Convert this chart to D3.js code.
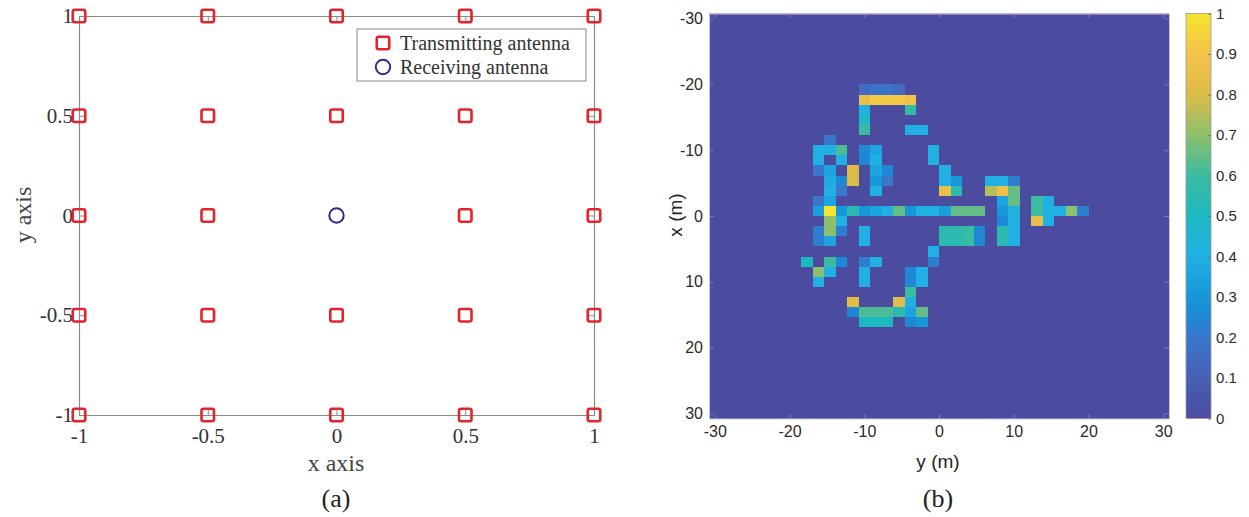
<!DOCTYPE html>
<html><head><meta charset="utf-8">
<script src="https://cdn.jsdelivr.net/npm/d3@7/dist/d3.min.js"></script>
<style>body{margin:0;background:#fff}svg{display:block}</style>
</head><body>
<svg id="chart" width="1249" height="517"></svg>
<script>
// ---------- Panel (a) data ----------
const txPositions = [
  [-1,1],[-0.5,1],[0,1],[0.5,1],[1,1],
  [-1,0.5],[-0.5,0.5],[0,0.5],[0.5,0.5],[1,0.5],
  [-1,0],[-0.5,0],[0.5,0],[1,0],
  [-1,-0.5],[-0.5,-0.5],[0,-0.5],[0.5,-0.5],[1,-0.5],
  [-1,-1],[-0.5,-1],[0,-1],[0.5,-1],[1,-1]
];
const rxPositions = [[0,0]];
const panelATicks = [-1,-0.5,0,0.5,1];
const panelATickLabels = ["-1","-0.5","0","0.5","1"];
const legendLabels = ["Transmitting antenna","Receiving antenna"];

// ---------- Panel (b) data ----------
const gridCount = 40;           // image pixels per side
const gridMin = -30, gridMax = 30;
const panelBTicks = [-30,-20,-10,0,10,20,30];
const panelBTickLabels = ["-30","-20","-10","0","10","20","30"];
const colorbarTicks = [0,0.1,0.2,0.3,0.4,0.5,0.6,0.7,0.8,0.9,1];
const colorbarTickLabels = ["0","0.1","0.2","0.3","0.4","0.5","0.6","0.7","0.8","0.9","1"];
// [row (x index, top->bottom), column (y index, left->right), value]
const hotCells = [
  [7,13,0.15],[7,14,0.18],[7,15,0.18],[7,16,0.15],
  [8,13,0.85],[8,14,0.92],[8,15,0.92],[8,16,0.92],[8,17,0.9],
  [9,13,0.42],[9,17,0.58],
  [10,13,0.48],
  [11,13,0.6],[11,17,0.4],[11,18,0.4],
  [12,10,0.2],
  [13,9,0.4],[13,10,0.4],[13,11,0.62],[13,13,0.25],[13,14,0.35],[13,19,0.4],
  [14,9,0.4],[14,11,0.4],[14,13,0.25],[14,14,0.4],[14,19,0.4],
  [15,9,0.2],[15,10,0.35],[15,12,0.8],[15,14,0.35],[15,15,0.25],[15,20,0.4],
  [16,10,0.38],[16,11,0.25],[16,12,0.8],[16,14,0.3],[16,15,0.2],[16,20,0.4],[16,21,0.3],[16,24,0.4],[16,25,0.4],[16,26,0.22],
  [17,10,0.4],[17,11,0.2],[17,14,0.4],[17,20,0.85],[17,21,0.55],[17,24,0.75],[17,25,0.88],[17,26,0.65],
  [18,9,0.2],[18,10,0.35],[18,25,0.35],[18,26,0.65],[18,28,0.6],[18,29,0.4],
  [19,9,0.33],[19,10,1.0],[19,11,0.3],[19,12,0.55],[19,13,0.3],[19,14,0.35],[19,15,0.4],[19,16,0.65],[19,17,0.3],[19,18,0.4],[19,19,0.4],[19,20,0.33],[19,21,0.65],[19,22,0.65],[19,23,0.65],[19,25,0.3],[19,26,0.42],[19,28,0.6],[19,29,0.4],[19,30,0.4],[19,31,0.7],[19,32,0.22],
  [20,10,0.7],[20,11,0.4],[20,25,0.25],[20,26,0.4],[20,28,0.85],[20,29,0.4],
  [21,9,0.22],[21,10,0.7],[21,11,0.22],[21,13,0.4],[21,20,0.55],[21,21,0.55],[21,22,0.58],[21,23,0.25],[21,25,0.55],[21,26,0.4],
  [22,9,0.22],[22,10,0.35],[22,13,0.4],[22,20,0.55],[22,21,0.55],[22,22,0.58],[22,23,0.25],[22,25,0.55],[22,26,0.4],
  [23,19,0.4],
  [24,8,0.5],[24,10,0.6],[24,11,0.25],[24,13,0.22],[24,14,0.4],[24,19,0.22],
  [25,9,0.7],[25,10,0.4],[25,13,0.4],[25,17,0.25],[25,18,0.4],
  [26,9,0.4],[26,13,0.4],[26,17,0.25],[26,18,0.4],
  [27,17,0.6],
  [28,12,0.82],[28,16,0.82],[28,17,0.4],
  [29,12,0.25],[29,13,0.62],[29,14,0.62],[29,15,0.62],[29,16,0.55],[29,17,0.35],[29,18,0.65],
  [30,13,0.5],[30,14,0.5],[30,15,0.5],[30,17,0.25],[30,18,0.3]
];

// colormap (washed parula as seen)
const cmapStops  = [0, 0.1, 0.2, 0.25, 0.3, 0.4, 0.5, 0.6, 0.7, 0.8, 0.9, 1];
const cmapColors = ["#4b4b9f","#4660b4","#3a76cc","#1e88d4","#1797d8","#21b0e4","#1cb9c0","#3cbba0","#8cc06c","#dcbc48","#f4c24a","#f5e52e"];

const svg = d3.select("#chart");
const serif = "'Liberation Serif','Times New Roman',serif";
const sans = "'Liberation Sans',Arial,Helvetica,sans-serif";

// ================= Panel (a) =================
const xA = d3.scaleLinear().domain([-1,1]).range([79,594]);
const yA = d3.scaleLinear().domain([-1,1]).range([415,16]);
const gA = svg.append("g");

function styleAxisA(sel){
  sel.select(".domain").attr("stroke","#8a8a8a").attr("stroke-width",1.2);
  sel.selectAll(".tick line").attr("stroke","#8a8a8a");
  sel.selectAll("text").attr("font-family",serif).attr("font-size",21).attr("fill","#333");
}
gA.append("g").attr("transform","translate(0,415)")
  .call(d3.axisBottom(xA).tickValues(panelATicks).tickFormat((d,i)=>panelATickLabels[i]).tickSize(-5).tickSizeOuter(0).tickPadding(13))
  .call(styleAxisA);
gA.append("g").attr("transform","translate(0,16)")
  .call(d3.axisTop(xA).tickValues(panelATicks).tickFormat("").tickSize(-5).tickSizeOuter(0))
  .call(styleAxisA);
gA.append("g").attr("transform","translate(79,0)")
  .call(d3.axisLeft(yA).tickValues(panelATicks).tickFormat((d,i)=>panelATickLabels[i]).tickSize(-5).tickSizeOuter(0).tickPadding(6))
  .call(styleAxisA);
gA.append("g").attr("transform","translate(594,0)")
  .call(d3.axisRight(yA).tickValues(panelATicks).tickFormat("").tickSize(-5).tickSizeOuter(0))
  .call(styleAxisA);

const redCol = "#e3242b", blueCol = "#2b2b8f";
const sq = 12.5;
gA.selectAll("rect.tx").data(txPositions).join("rect").attr("class","tx")
  .attr("x",d=>xA(d[0])-sq/2).attr("y",d=>yA(d[1])-sq/2).attr("width",sq).attr("height",sq)
  .attr("rx",2).attr("fill","none").attr("stroke",redCol).attr("stroke-width",2.6);
gA.selectAll("circle.rx").data(rxPositions).join("circle").attr("class","rx")
  .attr("cx",d=>xA(d[0])).attr("cy",d=>yA(d[1])).attr("r",7.2)
  .attr("fill","none").attr("stroke",blueCol).attr("stroke-width",2);

// legend
const lg = gA.append("g");
lg.append("rect").attr("x",357).attr("y",29).attr("width",229).attr("height",52)
  .attr("fill","#fff").attr("stroke","#8a8a8a").attr("stroke-width",1);
lg.append("rect").attr("x",383-sq/2).attr("y",43-sq/2).attr("width",sq).attr("height",sq).attr("rx",2)
  .attr("fill","none").attr("stroke",redCol).attr("stroke-width",2.6);
lg.append("circle").attr("cx",383).attr("cy",67).attr("r",7.2).attr("fill","none").attr("stroke",blueCol).attr("stroke-width",2);
lg.selectAll("text").data(legendLabels).join("text")
  .attr("x",400).attr("y",(d,i)=>43+i*24).attr("dy","0.33em")
  .attr("font-family",serif).attr("font-size",20).attr("fill","#333").text(d=>d);

gA.append("text").attr("x",336).attr("y",471).attr("text-anchor","middle")
  .attr("font-family",serif).attr("font-size",24).attr("fill","#444").text("x axis");
gA.append("text").attr("transform","translate(31,215) rotate(-90)").attr("text-anchor","middle")
  .attr("font-family",serif).attr("font-size",24).attr("fill","#444").text("y axis");
gA.append("text").attr("x",336).attr("y",507).attr("text-anchor","middle")
  .attr("font-family",serif).attr("font-size",26).attr("fill","#222").text("(a)");

// ================= Panel (b) =================
const step = (gridMax-gridMin)/(gridCount-1);
const half = step/2;
const centers = d3.range(gridCount).map(i => gridMin + i*step);
const xs = d3.scaleLinear().domain([gridMin-half, gridMax+half]).range([709,1169]);
const ys = d3.scaleLinear().domain([gridMin-half, gridMax+half]).range([13.5,418.5]);
const color = d3.scaleLinear().domain(cmapStops).range(cmapColors).interpolate(d3.interpolateRgb).clamp(true);

const matrix = [];
for (let r=0;r<gridCount;r++) for (let c=0;c<gridCount;c++) matrix.push({r,c,v:0});
hotCells.forEach(([r,c,v]) => { matrix[r*gridCount+c].v = v; });

const gB = svg.append("g");
gB.append("rect").attr("x",xs(gridMin-half)).attr("y",ys(gridMin-half))
  .attr("width",xs(gridMax+half)-xs(gridMin-half)).attr("height",ys(gridMax+half)-ys(gridMin-half))
  .attr("fill",color(0));
gB.append("g").selectAll("rect").data(matrix).join("rect")
  .attr("x",d=>xs(centers[d.c]-half)).attr("y",d=>ys(centers[d.r]-half))
  .attr("width",d=>xs(centers[d.c]+half)-xs(centers[d.c]-half))
  .attr("height",d=>ys(centers[d.r]+half)-ys(centers[d.r]-half))
  .attr("fill",d=>color(d.v)).attr("shape-rendering","crispEdges");

function styleAxisB(sel){
  sel.select(".domain").attr("stroke","#c9c9d6").attr("stroke-width",1);
  sel.selectAll(".tick line").attr("stroke","#9c9cc8").attr("stroke-opacity",0.6);
  sel.selectAll("text").attr("font-family",sans).attr("font-size",16).attr("fill","#2a2a2a");
}
gB.append("g").attr("transform","translate(0,418.5)")
  .call(d3.axisBottom(xs).tickValues(panelBTicks).tickFormat((d,i)=>panelBTickLabels[i]).tickSize(-4.5).tickSizeOuter(0).tickPadding(7))
  .call(styleAxisB);
gB.append("g").attr("transform","translate(0,13.5)")
  .call(d3.axisTop(xs).tickValues(panelBTicks).tickFormat("").tickSize(-4.5).tickSizeOuter(0))
  .call(styleAxisB);
gB.append("g").attr("transform","translate(709,0)")
  .call(d3.axisLeft(ys).tickValues(panelBTicks).tickFormat((d,i)=>panelBTickLabels[i]).tickSize(-4.5).tickSizeOuter(0).tickPadding(6))
  .call(styleAxisB);
gB.append("g").attr("transform","translate(1169,0)")
  .call(d3.axisRight(ys).tickValues(panelBTicks).tickFormat("").tickSize(-4.5).tickSizeOuter(0))
  .call(styleAxisB);

gB.append("text").attr("x",938).attr("y",468).attr("text-anchor","middle")
  .attr("font-family",sans).attr("font-size",19).attr("fill","#262626").text("y (m)");
gB.append("text").attr("transform","translate(682,215) rotate(-90)").attr("text-anchor","middle")
  .attr("font-family",sans).attr("font-size",19).attr("fill","#262626").text("x (m)");
gB.append("text").attr("x",938).attr("y",507).attr("text-anchor","middle")
  .attr("font-family",serif).attr("font-size",26).attr("fill","#222").text("(b)");

// colorbar
const cbX = 1186, cbW = 25;
const cbScale = d3.scaleLinear().domain([0,1]).range([418.5,13.5]);
const defs = svg.append("defs");
const grad = defs.append("linearGradient").attr("id","cbgrad").attr("x1",0).attr("y1",1).attr("x2",0).attr("y2",0);
grad.selectAll("stop").data(d3.range(0,1.0001,0.02)).join("stop")
  .attr("offset",d=>d).attr("stop-color",d=>color(d));
gB.append("rect").attr("x",cbX).attr("y",cbScale(1)).attr("width",cbW).attr("height",cbScale(0)-cbScale(1))
  .attr("fill","url(#cbgrad)").attr("stroke","#9a9a9a").attr("stroke-width",0.8);
const cbAxis = gB.append("g").attr("transform",`translate(${cbX+cbW},0)`)
  .call(d3.axisRight(cbScale).tickValues(colorbarTicks).tickFormat((d,i)=>colorbarTickLabels[i]).tickSize(-3).tickSizeOuter(0).tickPadding(5));
cbAxis.select(".domain").remove();
cbAxis.selectAll(".tick line").attr("stroke","#777");
cbAxis.selectAll("text").attr("font-family",sans).attr("font-size",15).attr("fill","#2a2a2a");
</script>
</body></html>
